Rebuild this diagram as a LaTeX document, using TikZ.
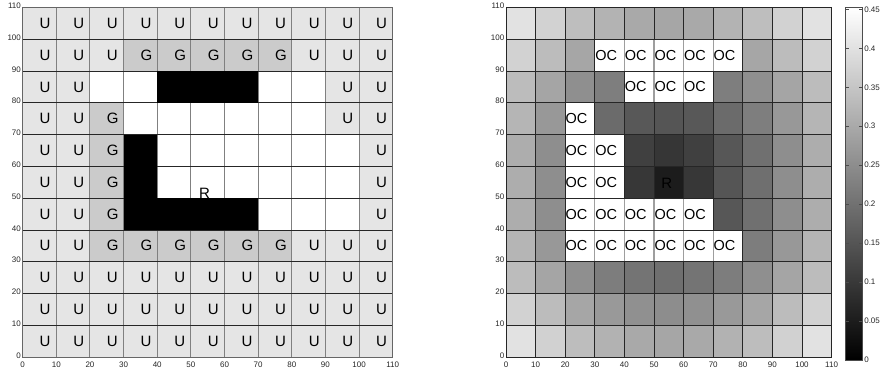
\documentclass[tikz,border=0pt]{standalone}
\usepackage{fontspec}
\setmainfont{Liberation Sans}
\definecolor{cU}{HTML}{E5E5E5}
\definecolor{cG}{HTML}{CBCBCB}
\colorlet{cW}{white}
\colorlet{cB}{black}
\tikzset{
  lbl/.style={anchor=west, inner sep=0pt, font=\fontsize{15}{15}\selectfont},
  oclbl/.style={anchor=west, inner sep=0pt, font=\fontsize{14.5}{14.5}\selectfont},
  ticklbl/.style={inner sep=0.6pt, font=\fontsize{8}{8}\selectfont, text=black!85},
  hgrid/.style={draw=black!85, line width=0.7pt},
  vgridL/.style={draw=black!50, line width=1pt},
  vgridR/.style={draw=black!85, line width=0.7pt},
  ocsep/.style={draw=black!38, line width=1.2pt},
  frameL/.style={draw=black!60, line width=0.8pt},
}
\def\codeU{U}\def\codeG{G}
\begin{document}
\begin{tikzpicture}[x=1pt,y=1pt]
\useasboundingbox (0,0) rectangle (883,374);
% ---------------- left plot ----------------
\begin{scope}[shift={(22.7pt,17pt)},x=3.3636pt,y=3.1773pt]
\foreach \r/\ca/\cb/\cc/\cd/\ce/\cf/\cg/\ch/\ci/\cj/\ck in {
  10/U/U/U/U/U/U/U/U/U/U/U,
  9/U/U/U/G/G/G/G/G/U/U/U,
  8/U/U/W/W/B/B/B/W/W/U/U,
  7/U/U/G/W/W/W/W/W/W/U/U,
  6/U/U/G/B/W/W/W/W/W/W/U,
  5/U/U/G/B/W/W/W/W/W/W/U,
  4/U/U/G/B/B/B/B/W/W/W/U,
  3/U/U/G/G/G/G/G/G/U/U/U,
  2/U/U/U/U/U/U/U/U/U/U/U,
  1/U/U/U/U/U/U/U/U/U/U/U,
  0/U/U/U/U/U/U/U/U/U/U/U}{
  \foreach \c [count=\i from 0] in {\ca,\cb,\cc,\cd,\ce,\cf,\cg,\ch,\ci,\cj,\ck}{
    \edef\cc{\c}
    \fill[fill=c\cc] (\i*10,\r*10) rectangle ++(10,10);
    \ifx\cc\codeU \node[lbl] (L-\r-\i) at (\i*10+5,\r*10+5) {U};\fi
    \ifx\cc\codeG \node[lbl] (L-\r-\i) at (\i*10+5,\r*10+5) {G};\fi
  }
}
\foreach \k in {1,...,10}{
  \draw[vgridL] (\k*10,0) -- (\k*10,110);
}
\foreach \k in {1,...,10}{
  \draw[hgrid] (0,\k*10) -- (110,\k*10);
}
% wall blocks drawn over the grid (no inner lines)
\fill[black] (40,80) rectangle (70,90);
\fill[black] (30,40) rectangle (40,70);
\fill[black] (30,40) rectangle (70,50);
\draw[frameL] (0,0) rectangle (110,110);
\node[lbl] (Rl) at (52.4,51.6) {R};
\foreach \k in {0,...,11}{
  \node[ticklbl,anchor=north] (LX\k) at (\k*10,-1.2) {\number\numexpr\k*10\relax};
  \node[ticklbl,anchor=east] (LY\k) at (-0.3,\k*10+0.5) {\number\numexpr\k*10\relax};
}
\end{scope}
% ---------------- right plot ----------------
\begin{scope}[shift={(506pt,17pt)},x=2.96pt,y=3.1773pt]
\foreach \r/\ca/\cb/\cc/\cd/\ce/\cf/\cg/\ch/\ci/\cj/\ck in {
  10/226/210/190/179/169/166/169/179/190/210/226,
  9/210/188/166/255/255/255/255/255/166/188/210,
  8/188/165/143/126/255/255/255/126/143/165/188,
  7/181/152/255/107/88/85/88/107/126/152/181,
  6/173/142/255/255/64/54/64/87/112/142/173,
  5/173/142/255/255/55/28/55/85/111/142/173,
  4/173/142/255/255/255/255/255/87/112/142/173,
  3/181/152/255/255/255/255/255/255/125/152/181,
  2/188/165/143/125/116/111/116/125/143/165/188,
  1/210/188/166/153/144/141/144/153/166/188/210,
  0/226/209/189/178/169/166/169/178/189/209/226}{
  \foreach \v [count=\i from 0] in {\ca,\cb,\cc,\cd,\ce,\cf,\cg,\ch,\ci,\cj,\ck}{
    \edef\vv{\v}
    \definecolor{tmpc}{RGB}{\vv,\vv,\vv}
    \fill[tmpc] (\i*10,\r*10) rectangle ++(10,10);
  }
}
\foreach \k in {1,...,10}{
  \draw[vgridR] (\k*10,0) -- (\k*10,110);
}
% lighter separators between adjacent OC cells
\foreach \xx/\yy in {40/9,50/9,60/9,70/9,50/8,60/8,30/6,30/5,30/4,40/4,50/4,60/4,30/3,40/3,50/3,60/3,70/3}{
  \draw[ocsep] (\xx,\yy*10) -- (\xx,\yy*10+10);
}
\foreach \k in {1,...,10}{
  \draw[hgrid] (0,\k*10) -- (110,\k*10);
}
\draw[hgrid] (0,0) rectangle (110,110);
\foreach \cx/\ry in {3/9,4/9,5/9,6/9,7/9,4/8,5/8,6/8,2/7,2/6,3/6,2/5,3/5,2/4,3/4,4/4,5/4,6/4,2/3,3/3,4/3,5/3,6/3,7/3}{
  \node[oclbl] (OC-\cx-\ry) at (\cx*10+0.1,\ry*10+5) {OC};
}
\node[lbl,text=black] (Rr) at (52.4,54.6) {R};
\foreach \k in {0,...,11}{
  \node[ticklbl,anchor=north] (RX\k) at (\k*10,-1.2) {\number\numexpr\k*10\relax};
  \node[ticklbl,anchor=east] (RY\k) at (-0.3,\k*10+0.5) {\number\numexpr\k*10\relax};
}
\end{scope}
% ---------------- colour bar ----------------
\shade[bottom color=black, top color=white] (845.7,14) rectangle (862.3,366.7);
\draw[draw=black!70, line width=0.7pt] (845.7,14) rectangle (862.3,366.7);
\foreach \k/\lab in {0/0,1/0.05,2/0.1,3/0.15,4/0.2,5/0.25,6/0.3,7/0.35,8/0.4,9/0.45}{
  \draw[black!70, line width=0.5pt] (845.7,14+\k*38.96) -- ++(3,0);
  \draw[black!70, line width=0.5pt] (862.3,14+\k*38.96) -- ++(-3,0);
  \node[ticklbl,anchor=west] (CB\k) at (863.5,14+\k*38.96) {\lab};
}
\end{tikzpicture}
\end{document}
